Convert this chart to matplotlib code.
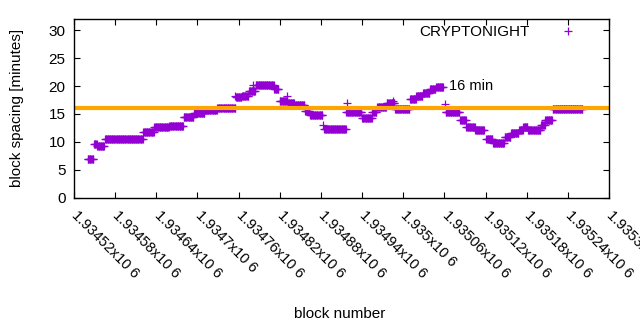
import numpy as np
import matplotlib
matplotlib.use("Agg")
import matplotlib.pyplot as plt
from matplotlib.transforms import ScaledTranslation

plt.rcParams['font.family'] = ['Liberation Sans', 'DejaVu Sans']

# Runs of (start block, end block exclusive, spacing in minutes)
run_start = [1934540, 1934549, 1934554, 1934565, 1934621, 1934637, 1934659, 1934680,
             1934695, 1934711, 1934729, 1934756, 1934765, 1934775, 1934785, 1934812,
             1934820, 1934832, 1934842, 1934857, 1934864, 1934885, 1934917, 1934940,
             1934955, 1934962, 1934976, 1934988, 1935010, 1935019, 1935029, 1935039,
             1935048, 1935062, 1935083, 1935092, 1935105, 1935121, 1935131, 1935148,
             1935157, 1935169, 1935175, 1935182, 1935201, 1935207, 1935218]
run_end = [1934549, 1934554, 1934565, 1934621, 1934637, 1934659, 1934680, 1934695,
           1934711, 1934729, 1934756, 1934765, 1934775, 1934785, 1934812, 1934819,
           1934832, 1934842, 1934857, 1934864, 1934883, 1934917, 1934940, 1934955,
           1934962, 1934976, 1934988, 1935010, 1935019, 1935029, 1935039, 1935048,
           1935059, 1935083, 1935092, 1935105, 1935119, 1935131, 1935148, 1935157,
           1935169, 1935175, 1935182, 1935201, 1935207, 1935218, 1935262]
run_value = [7.0, 9.7, 9.2, 10.5, 11.7, 12.6, 12.8, 14.4,
             15.2, 15.7, 16.0, 18.1, 18.3, 19.1, 20.1, 19.5,
             17.3, 16.9, 16.6, 15.6, 14.8, 12.25, 15.4, 14.3,
             15.4, 16.3, 16.9, 15.8, 17.6, 18.2, 18.7, 19.4,
             19.8, 15.4, 14.0, 12.6, 12.2, 10.6, 9.8, 10.9,
             11.5, 12.1, 12.7, 12.1, 13.0, 13.9, 15.8]

# isolated points
stray_block = [1934883, 1934918, 1934985, 1935061, 1934755, 1934781, 1934831]
stray_value = [13.0, 16.9, 17.4, 16.8, 18.2, 20.2, 18.2]

target_minutes = 16
xmin, xmax, xstep = 1934520, 1935300, 60

blocks = []
values = []
for s, e, v in zip(run_start, run_end, run_value):
    for b in range(s, e):
        blocks.append(b)
        values.append(v)
blocks += stray_block
values += stray_value

fig = plt.figure(figsize=(6.4, 3.3), dpi=100)
ax = fig.add_axes([74/640, 1-197.7/330, (609-74)/640, (197.7-19)/330])

ax.plot(blocks, values, '+', color='#9400d3', markersize=5.2, mew=0.9,
        linestyle='none', label='CRYPTONIGHT')
ax.axhline(target_minutes, color='#ffa500', lw=3.0)
ax.text(1935067, 20.0, '16 min', fontsize=10.5, ha='left', va='center')

ax.set_xlim(xmin, xmax)
ax.set_ylim(0, 32)
xt = np.arange(xmin, xmax + 1, xstep)
ax.set_xticks(xt)
ax.set_xticklabels([f"{v/1e6:g}x10 6" for v in xt], rotation=-45, ha='left',
                   va='top', rotation_mode='anchor', fontsize=10.5)
ax.set_yticks(np.arange(0, 31, 5))
ax.tick_params(axis='y', labelsize=11)
ax.tick_params(direction='in', length=4.5, width=0.8, top=True, right=True, pad=6)
ax.tick_params(axis='x', pad=7)
for sp in ax.spines.values():
    sp.set_linewidth(1.0)

shift = ScaledTranslation(5/100, -1/100, fig.dpi_scale_trans)
for tick in ax.xaxis.get_major_ticks():
    tick.label1.set_transform(tick.label1.get_transform() + shift)

ax.set_xlabel('block number', fontsize=11)
ax.xaxis.set_label_coords((340-74)/535, (197.7-307)/178.7)
ax.set_ylabel('block spacing [minutes]', fontsize=11)
ax.yaxis.set_label_coords((24-74)/535, 0.5)

ax.legend(loc='center right', bbox_to_anchor=((583-74)/535, 0.927), frameon=False,
          markerfirst=False, handlelength=2.0, handletextpad=1.5, borderpad=0,
          borderaxespad=0, fontsize=11, numpoints=1)

fig.savefig('out.png', dpi=100)
